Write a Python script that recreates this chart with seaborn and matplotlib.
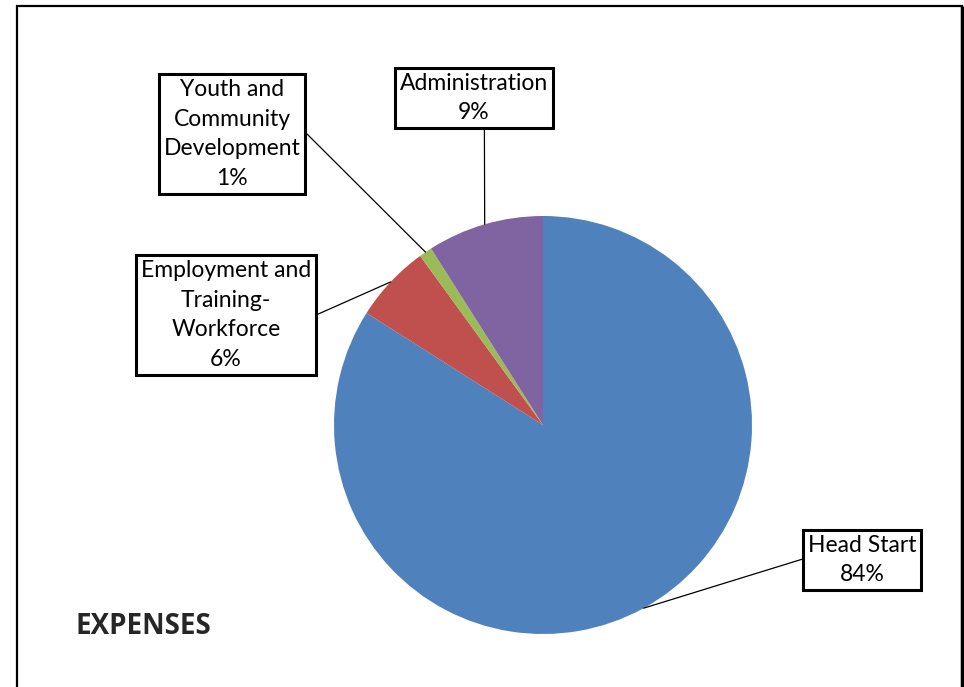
import numpy as np
import matplotlib
matplotlib.use("Agg")
import matplotlib.pyplot as plt
import matplotlib.patches as mpatches
import seaborn as sns

categories = ["Head Start", "Employment and\nTraining-\nWorkforce", "Youth and\nCommunity\nDevelopment", "Administration"]
values = [84, 6, 1, 9]
pct_labels = ["84%", "6%", "1%", "9%"]
colors = ["#4F81BD", "#C0504D", "#9BBB59", "#8064A2"]
title = "EXPENSES"

sns.set_theme(style="white")
plt.rcParams['font.family'] = ['Lato', 'DejaVu Sans']

W, H = 964, 687
fig = plt.figure(figsize=(W / 100, H / 100), dpi=100)
ax = fig.add_axes([0, 0, 1, 1])

cx, cy, r = 543, H - 425, 209
wedges, _ = ax.pie(values, colors=colors, startangle=90, counterclock=False,
                   center=(cx, cy), radius=r, frame=True,
                   wedgeprops=dict(linewidth=0))
ax.set_xlim(0, W)
ax.set_ylim(0, H)
ax.set_aspect('equal')
ax.axis('off')

# label box centres (pixel coords, top-left origin) and relpos of leader
label_pos = [(862, 560), (226, 315), (232, 134), (474, 98)]
relpos = [(0.0, 0.55), (1.0, 0.48), (1.0, 0.56), (0.57, 0.0)]

for w, cat, pct, (tx, ty), rp in zip(wedges, categories, pct_labels, label_pos, relpos):
    mid = np.deg2rad((w.theta1 + w.theta2) / 2)
    ex, ey = cx + r * np.cos(mid), cy + r * np.sin(mid)
    ax.annotate(f"{cat}\n{pct}", xy=(ex, ey), xytext=(tx, H - ty),
                ha='center', va='center', fontsize=16.5, linespacing=1.5,
                color='black',
                bbox=dict(boxstyle='square,pad=0.22', fc='white', ec='black', lw=2.2),
                arrowprops=dict(arrowstyle='-', color='black', lw=0.9,
                                relpos=rp, shrinkA=0, shrinkB=0))

ax.text(75, H - 627, title, fontsize=20, fontweight='bold', ha='left', va='center',
        family=['Open Sans', 'DejaVu Sans'])

# outer frame
ax.add_patch(mpatches.Rectangle((17, -20), 945, H - 6 + 20, fill=False,
                                ec='black', lw=1.6, clip_on=False))
ax.plot([962, 962], [-20, H - 6], color='black', lw=2.4, solid_capstyle='butt')

fig.savefig("out.png", dpi=100)
